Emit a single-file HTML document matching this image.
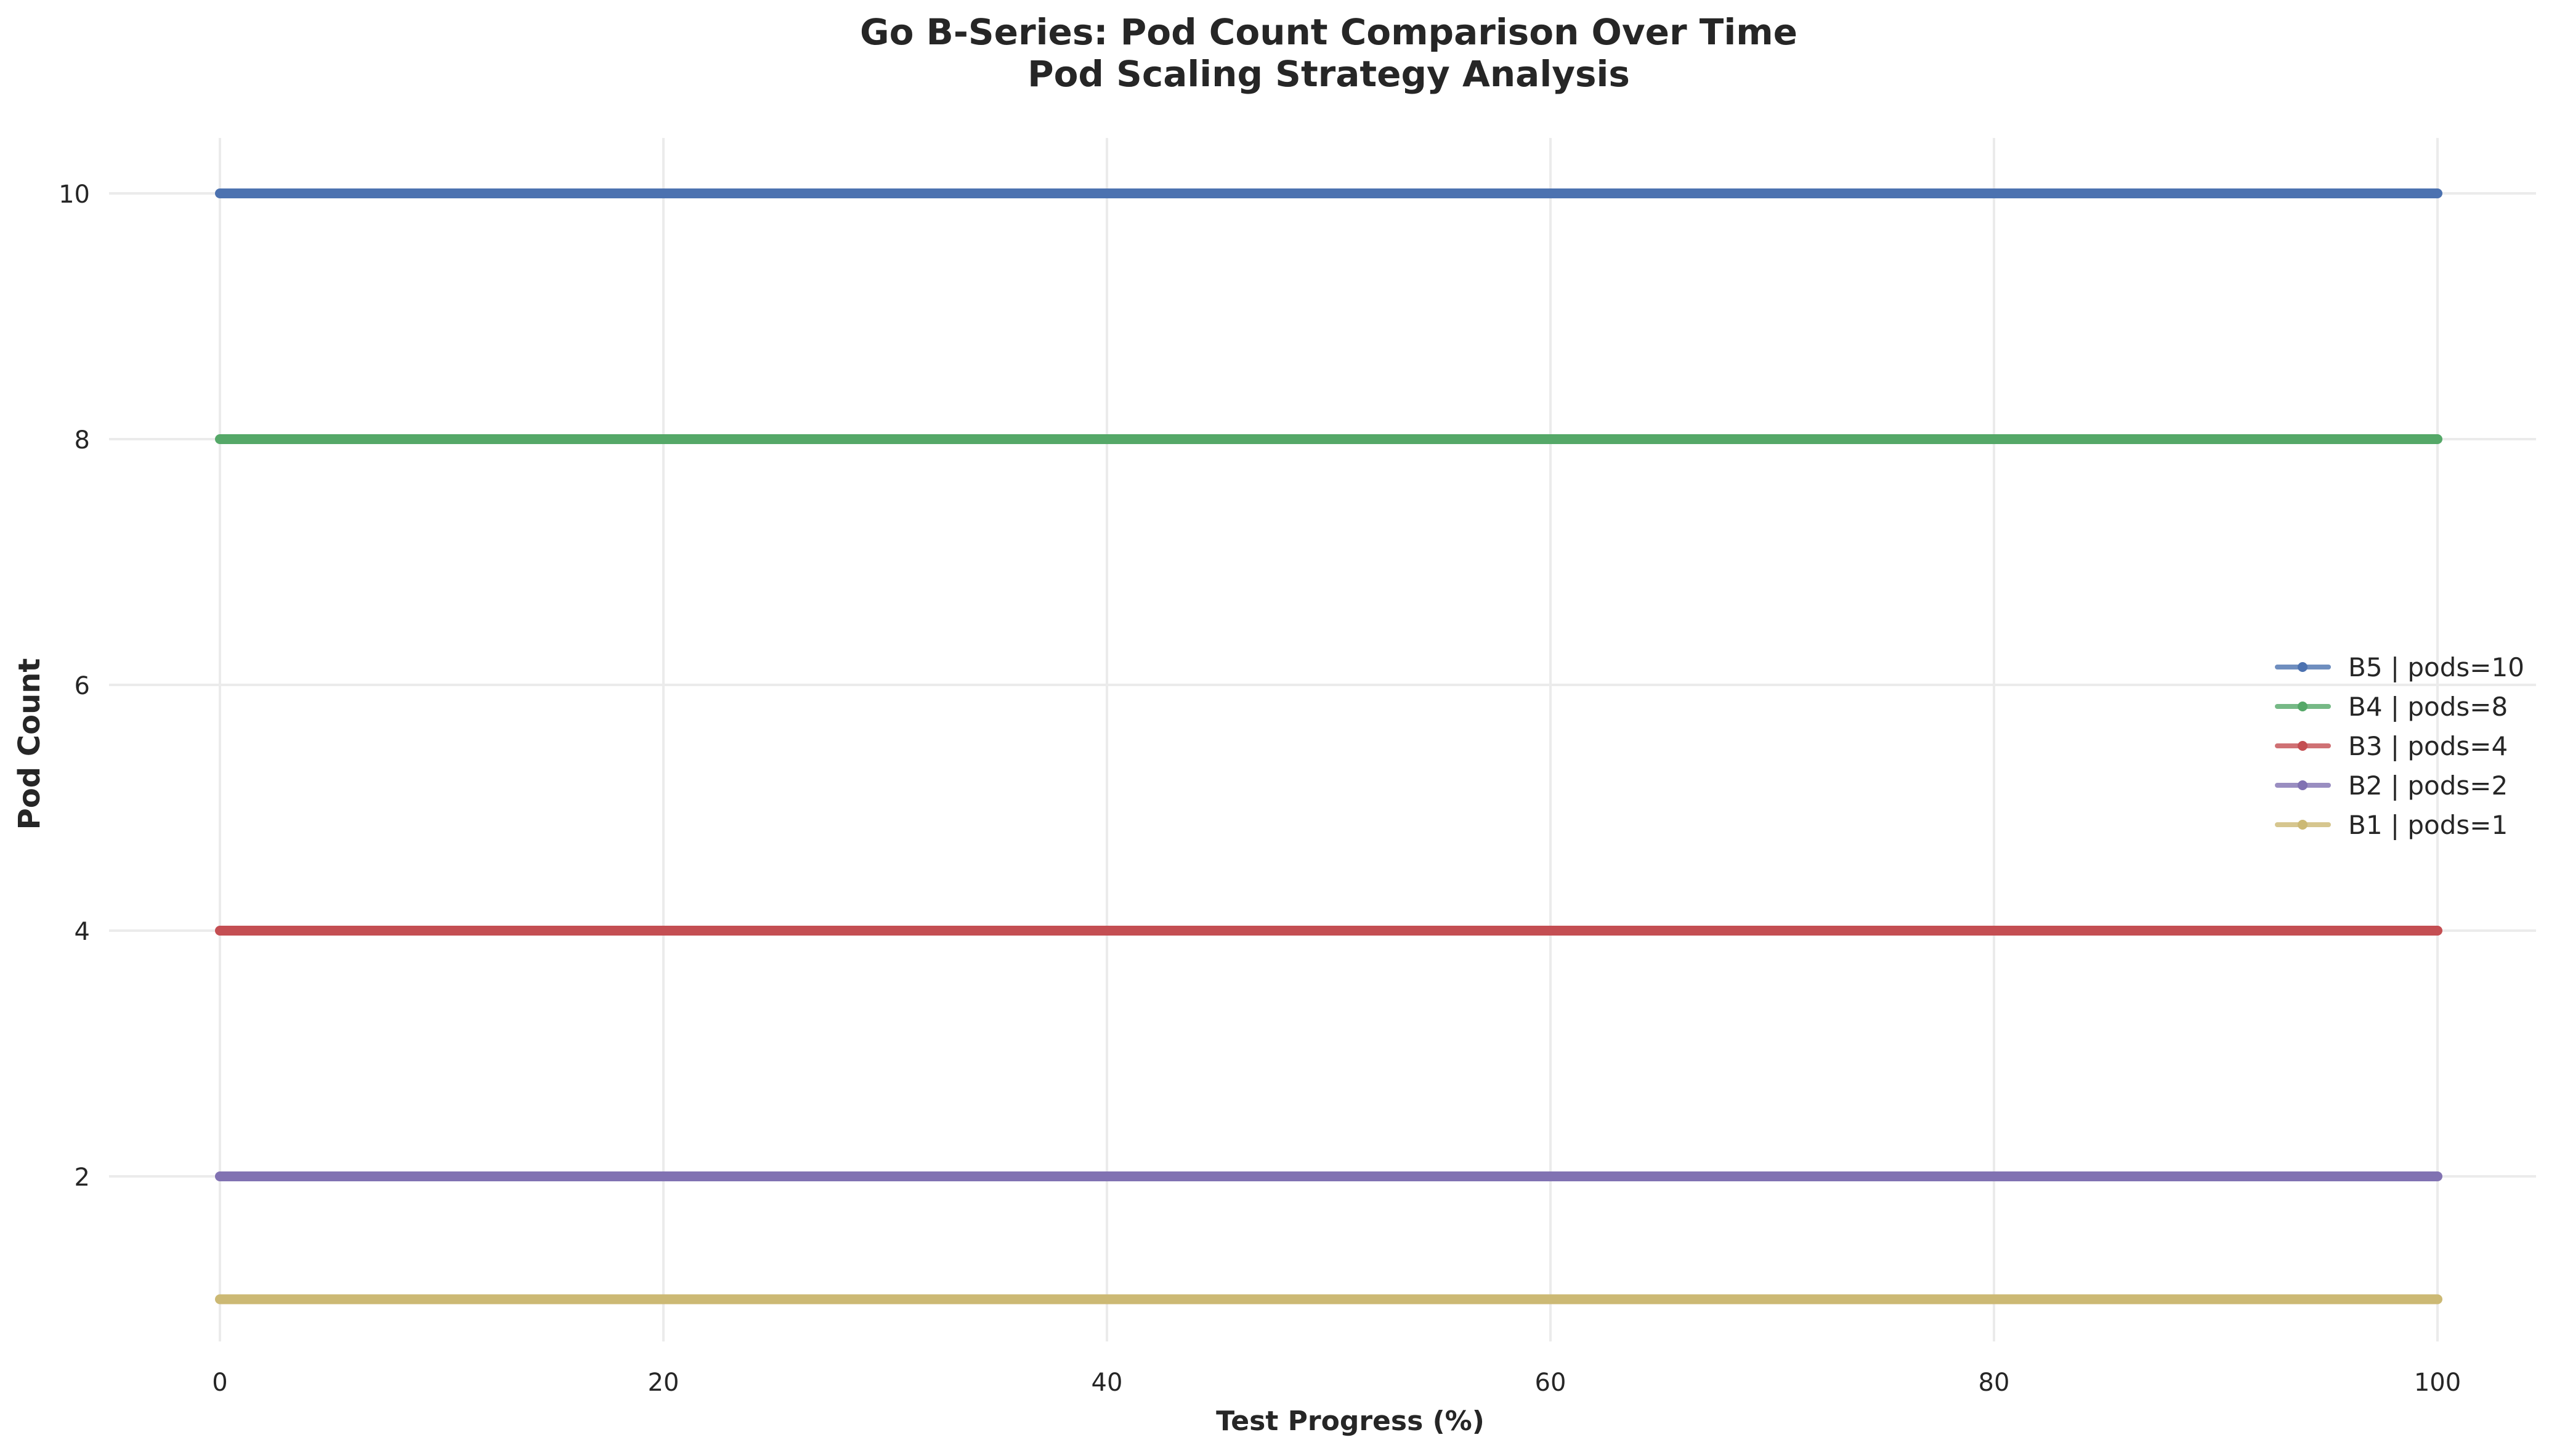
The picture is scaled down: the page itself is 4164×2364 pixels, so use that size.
<!DOCTYPE html>
<html><head><meta charset="utf-8"><style>
html,body{margin:0;padding:0;background:#fff;}
svg{display:block;font-family:"DejaVu Sans","Liberation Sans",sans-serif;}
</style></head><body>
<svg id="chart" width="4164" height="2364" viewBox="0 0 4164 2364" xmlns="http://www.w3.org/2000/svg">
<rect width="4164" height="2364" fill="#fff"/>
<text x="2157" y="72" text-anchor="middle" font-size="58" font-weight="bold" fill="#262626">Go B-Series: Pod Count Comparison Over Time</text>
<text x="2157" y="140" text-anchor="middle" font-size="58" font-weight="bold" fill="#262626">Pod Scaling Strategy Analysis</text>
<g id="grid"></g><g id="ticks"></g><g id="series"></g><g id="legend"></g>
<text x="2192" y="2322" text-anchor="middle" font-size="44" font-weight="bold" fill="#262626">Test Progress (%)</text>
<text x="0" y="0" transform="translate(64,1208) rotate(-90)" text-anchor="middle" font-size="48" font-weight="bold" fill="#262626">Pod Count</text>
</svg>
<script>
const seriesNames = ["B5 | pods=10","B4 | pods=8","B3 | pods=4","B2 | pods=2","B1 | pods=1"];
const seriesValues = [10, 8, 4, 2, 1];
const seriesColors = ["#4c72b0","#55a868","#c44e52","#8172b2","#ccb974"];
const xStart = 0, xEnd = 100;
const xTicks = [0,20,40,60,80,100];
const yTicks = [2,4,6,8,10];
const NS = "http://www.w3.org/2000/svg";
const X = v => 357 + (v - 0) * 36;
const Y = v => 314 + (10 - v) * 199.5;
function mk(tag, attrs, parent){const e=document.createElementNS(NS,tag);for(const k in attrs)e.setAttribute(k,attrs[k]);parent.appendChild(e);return e;}
const grid=document.getElementById('grid'),ticks=document.getElementById('ticks'),ser=document.getElementById('series'),leg=document.getElementById('legend');
xTicks.forEach(t=>{
  const l=mk('line',{x1:X(t),x2:X(t),y1:224,y2:2178,stroke:'#ebebeb','stroke-width':4},grid);
  
  
  const tx=mk('text',{x:X(t),y:2258,'text-anchor':'middle','font-size':40,fill:'#262626'},ticks);
  tx.textContent=t;
  
  
});
yTicks.forEach(t=>{
  const l=mk('line',{x1:177,x2:4117,y1:Y(t),y2:Y(t),stroke:'#ebebeb','stroke-width':4},grid);
  
  
  const tx=mk('text',{x:146,y:Y(t)+15,'text-anchor':'end','font-size':40,fill:'#262626'},ticks);
  tx.textContent=t;
  
  
});
seriesValues.forEach((v,i)=>{
  const l=mk('line',{x1:X(xStart),x2:X(xEnd),y1:Y(v),y2:Y(v),stroke:seriesColors[i],'stroke-width':16,'stroke-linecap':'round'},ser);
  
  
  const ly=1083+i*64;
  const ll=mk('line',{x1:3697,x2:3780,y1:ly,y2:ly,stroke:seriesColors[i],'stroke-width':8,'stroke-linecap':'round',opacity:0.8},leg);
  
  
  const c=mk('circle',{cx:3738,cy:ly,r:8,fill:seriesColors[i]},leg);
  
  
  const tx=mk('text',{x:3812,y:ly+15,'font-size':42,fill:'#262626'},leg);
  tx.textContent=seriesNames[i];
  
  
});
</script>
</body></html>
